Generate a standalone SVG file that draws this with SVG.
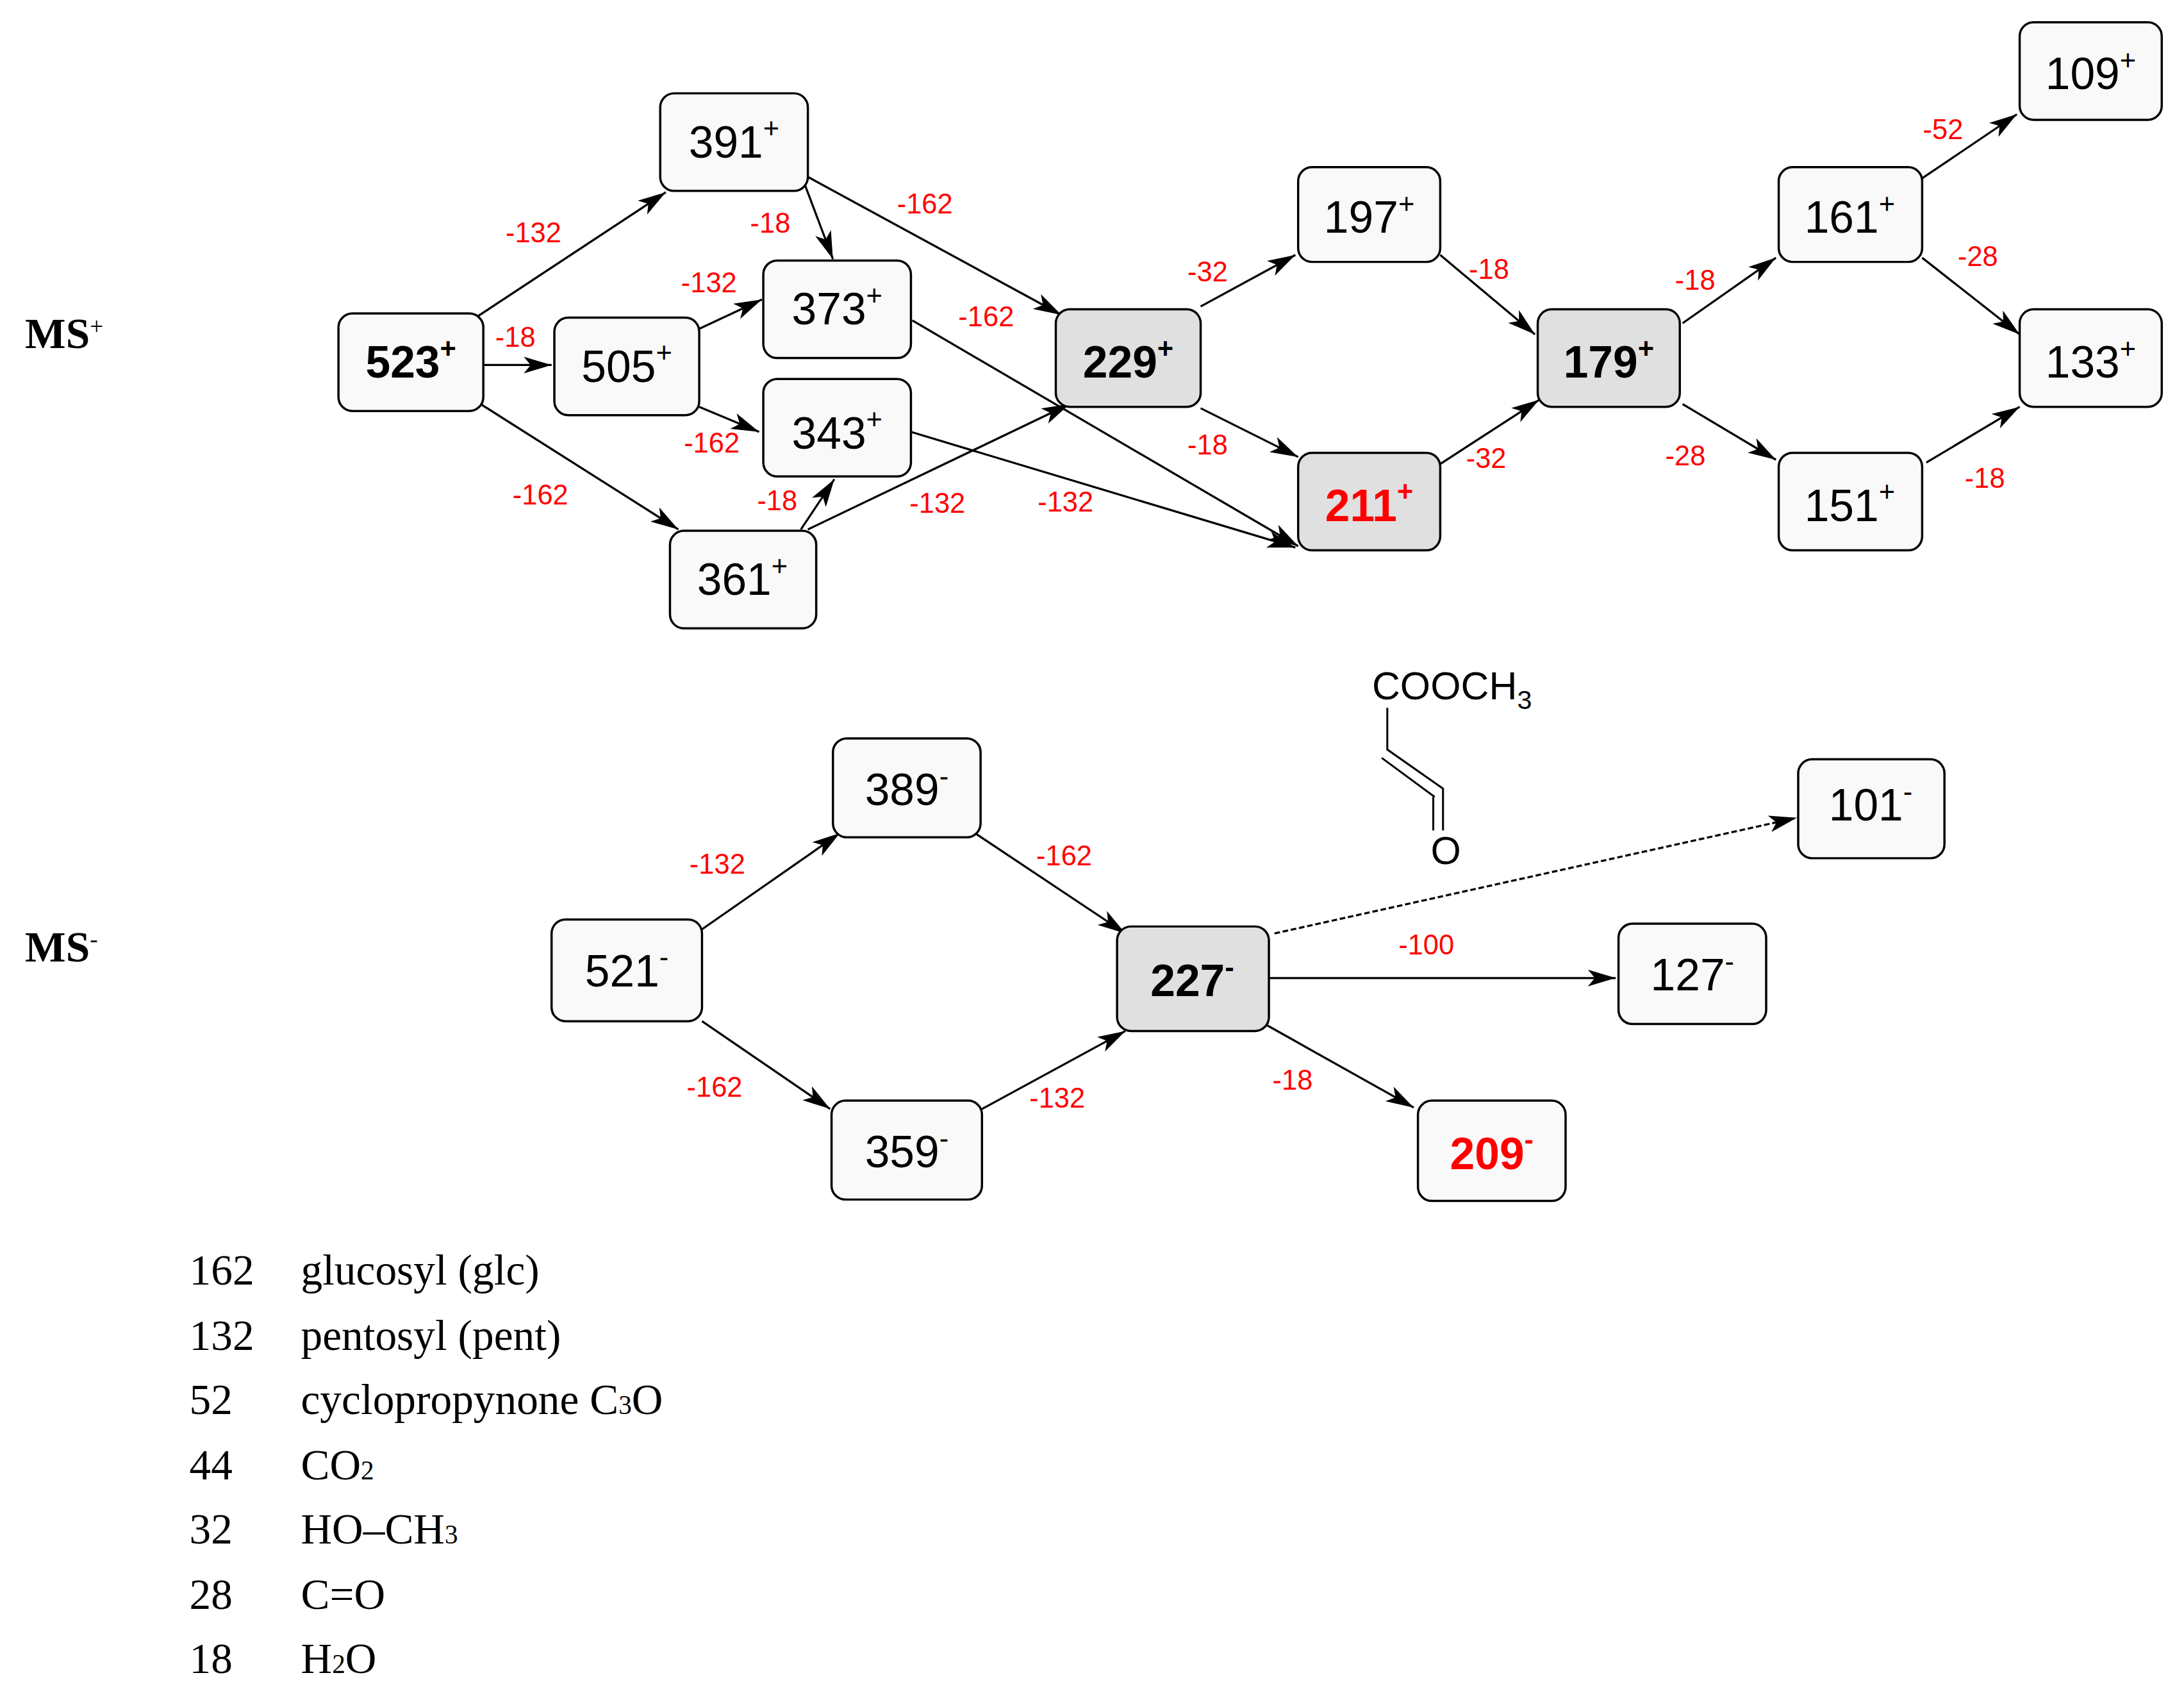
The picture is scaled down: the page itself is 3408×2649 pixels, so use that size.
<svg xmlns="http://www.w3.org/2000/svg" width="3408" height="2649" viewBox="0 0 3408 2649">
<style>
.n rect{fill:#f9f9f9;stroke:#000;stroke-width:1.6}
.g rect{fill:#e0e0e0}
.n text{font-family:"Liberation Sans",Arial,sans-serif;font-size:32px;text-anchor:middle}
.b text{font-weight:bold}
.r text{fill:#ff0000}
.e line{stroke:#000;stroke-width:1.5;marker-end:url(#ah)}
.l text{font-family:"Liberation Sans",Arial,sans-serif;font-size:20px;fill:#ff0000;text-anchor:middle}
.lg{font-family:"Liberation Serif","Times New Roman",serif;font-size:31px}
</style>
<defs>
<marker id="ah" markerUnits="userSpaceOnUse" markerWidth="22" markerHeight="14" refX="20" refY="6" orient="auto">
<path d="M0,0 L20,6 L0,12 L5,6 Z" fill="#000"/>
</marker>
</defs>
<rect width="3408" height="2649" fill="#fff"/>
<g transform="scale(2.1735)">
<g id="connectors" class="e">
<line x1="343" y1="227" x2="478" y2="138"/>
<line x1="347" y1="262" x2="396" y2="262"/>
<line x1="345" y1="290" x2="487" y2="380"/>
<line x1="578" y1="133" x2="598" y2="186"/>
<line x1="580" y1="127" x2="762" y2="226"/>
<line x1="502" y1="236" x2="547" y2="215"/>
<line x1="502" y1="292" x2="545" y2="310"/>
<line x1="655" y1="230" x2="932" y2="392"/>
<line x1="654" y1="310" x2="930" y2="393"/>
<line x1="575" y1="380" x2="599" y2="344"/>
<line x1="580" y1="380" x2="768" y2="290"/>
<line x1="862" y1="220" x2="930" y2="183"/>
<line x1="862" y1="293" x2="932" y2="328"/>
<line x1="1034" y1="333" x2="1105" y2="287"/>
<line x1="1034" y1="183" x2="1102" y2="240"/>
<line x1="1208" y1="232" x2="1275" y2="185"/>
<line x1="1208" y1="290" x2="1275" y2="330"/>
<line x1="1380" y1="128" x2="1448" y2="82"/>
<line x1="1380" y1="185" x2="1450" y2="240"/>
<line x1="1383" y1="332" x2="1450" y2="292"/>
<line x1="504" y1="667" x2="603" y2="598"/>
<line x1="504" y1="733" x2="596" y2="796"/>
<line x1="700" y1="598" x2="808" y2="670"/>
<line x1="705" y1="796" x2="808" y2="740"/>
<line x1="915" y1="670" x2="1290" y2="587" stroke-dasharray="4,2"/>
<line x1="911" y1="702" x2="1160" y2="702"/>
<line x1="908" y1="735" x2="1015" y2="795"/>
</g>
<g id="labels" class="l">
<text x="383" y="174">-132</text><text x="370" y="249">-18</text><text x="388" y="362">-162</text>
<text x="553" y="167">-18</text><text x="664" y="153">-162</text><text x="509" y="210">-132</text>
<text x="708" y="234">-162</text><text x="511" y="325">-162</text><text x="558" y="366">-18</text>
<text x="673" y="368">-132</text><text x="765" y="367">-132</text><text x="867" y="202">-32</text>
<text x="867" y="326">-18</text><text x="1069" y="200">-18</text><text x="1067" y="336">-32</text>
<text x="1217" y="208">-18</text><text x="1210" y="334">-28</text><text x="1395" y="100">-52</text>
<text x="1420" y="191">-28</text><text x="1425" y="350">-18</text>
<text x="515" y="627">-132</text><text x="764" y="621">-162</text><text x="513" y="787">-162</text>
<text x="759" y="795">-132</text><text x="1024" y="685">-100</text><text x="928" y="782">-18</text>
</g>
<g id="n523" class="n b"><rect x="243" y="225" width="104" height="70" rx="10"/><text x="295" y="271">523<tspan font-size="20" dy="-14">+</tspan></text></g>
<g id="n505" class="n"><rect x="398" y="228" width="104" height="70" rx="10"/><text x="450" y="274">505<tspan font-size="20" dy="-14">+</tspan></text></g>
<g id="n391" class="n"><rect x="474" y="67" width="106" height="70" rx="10"/><text x="527" y="113">391<tspan font-size="20" dy="-14">+</tspan></text></g>
<g id="n373" class="n"><rect x="548" y="187" width="106" height="70" rx="10"/><text x="601" y="233">373<tspan font-size="20" dy="-14">+</tspan></text></g>
<g id="n343" class="n"><rect x="548" y="272" width="106" height="70" rx="10"/><text x="601" y="322">343<tspan font-size="20" dy="-14">+</tspan></text></g>
<g id="n361" class="n"><rect x="481" y="381" width="105" height="70" rx="10"/><text x="533" y="427">361<tspan font-size="20" dy="-14">+</tspan></text></g>
<g id="n229" class="n g b"><rect x="758" y="222" width="104" height="70" rx="10"/><text x="810" y="271">229<tspan font-size="20" dy="-14">+</tspan></text></g>
<g id="n211" class="n g b r"><rect x="932" y="325" width="102" height="70" rx="10"/><text x="983" y="374">211<tspan font-size="20" dy="-14">+</tspan></text></g>
<g id="n197" class="n"><rect x="932" y="120" width="102" height="68" rx="10"/><text x="983" y="167">197<tspan font-size="20" dy="-14">+</tspan></text></g>
<g id="n179" class="n g b"><rect x="1104" y="222" width="102" height="70" rx="10"/><text x="1155" y="271">179<tspan font-size="20" dy="-14">+</tspan></text></g>
<g id="n161" class="n"><rect x="1277" y="120" width="103" height="68" rx="10"/><text x="1328" y="167">161<tspan font-size="20" dy="-14">+</tspan></text></g>
<g id="n151" class="n"><rect x="1277" y="325" width="103" height="70" rx="10"/><text x="1328" y="374">151<tspan font-size="20" dy="-14">+</tspan></text></g>
<g id="n109" class="n"><rect x="1450" y="16" width="102" height="70" rx="10"/><text x="1501" y="64">109<tspan font-size="20" dy="-14">+</tspan></text></g>
<g id="n133" class="n"><rect x="1450" y="222" width="102" height="70" rx="10"/><text x="1501" y="271">133<tspan font-size="20" dy="-14">+</tspan></text></g>
<g id="n389" class="n"><rect x="598" y="530" width="106" height="71" rx="10"/><text x="651" y="578">389<tspan font-size="20" dy="-14">-</tspan></text></g>
<g id="n521" class="n"><rect x="396" y="660" width="108" height="73" rx="10"/><text x="450" y="708">521<tspan font-size="20" dy="-14">-</tspan></text></g>
<g id="n359" class="n"><rect x="597" y="790" width="108" height="71" rx="10"/><text x="651" y="838">359<tspan font-size="20" dy="-14">-</tspan></text></g>
<g id="n227" class="n g b"><rect x="802" y="665" width="109" height="75" rx="10"/><text x="856" y="715">227<tspan font-size="20" dy="-14">-</tspan></text></g>
<g id="n101" class="n"><rect x="1291" y="545" width="105" height="71" rx="10"/><text x="1343" y="589">101<tspan font-size="20" dy="-14">-</tspan></text></g>
<g id="n127" class="n"><rect x="1162" y="663" width="106" height="72" rx="10"/><text x="1215" y="711">127<tspan font-size="20" dy="-14">-</tspan></text></g>
<g id="n209" class="n b r"><rect x="1018" y="790" width="106" height="72" rx="10"/><text x="1071" y="839">209<tspan font-size="20" dy="-14">-</tspan></text></g>
<g id="structure" font-family="Liberation Sans,Arial,sans-serif" font-size="28">
<text x="985" y="502">COOCH<tspan font-size="19" dy="7">3</tspan></text>
<path d="M996,508 V538 L1036,566 V596 M992,544 L1030,572 M1029,572 V596" fill="none" stroke="#000" stroke-width="1.4"/>
<text x="1038" y="620" text-anchor="middle">O</text>
</g>
<g id="titles" class="lg" font-weight="bold" font-size="28">
<text x="18" y="250">MS<tspan font-size="17" dy="-10" font-weight="normal">+</tspan></text>
<text x="18" y="690">MS<tspan font-size="17" dy="-10" font-weight="normal">-</tspan></text>
</g>
<g id="legend" class="lg">
<text x="136" y="922">162</text><text x="216" y="922">glucosyl (glc)</text>
<text x="136" y="969">132</text><text x="216" y="969">pentosyl (pent)</text>
<text x="136" y="1015">52</text><text x="216" y="1015">cyclopropynone C<tspan font-size="19">3</tspan>O</text>
<text x="136" y="1062">44</text><text x="216" y="1062">CO<tspan font-size="19">2</tspan></text>
<text x="136" y="1108">32</text><text x="216" y="1108">HO–CH<tspan font-size="19">3</tspan></text>
<text x="136" y="1155">28</text><text x="216" y="1155">C=O</text>
<text x="136" y="1201">18</text><text x="216" y="1201">H<tspan font-size="19">2</tspan>O</text>
</g>
</g>
</svg>
